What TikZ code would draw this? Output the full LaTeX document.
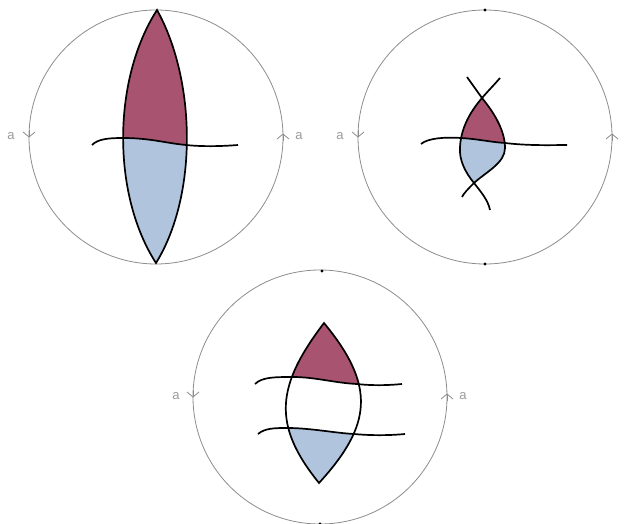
\documentclass[tikz,border=0pt]{standalone}
\usepackage{fontspec}
\newfontfamily\labelfont{Liberation Sans}
\definecolor{lnRim}{HTML}{8C8C8C}
\definecolor{lnLabel}{HTML}{9A9A9A}
\definecolor{lnRed}{HTML}{A8536F}
\definecolor{lnBlue}{HTML}{B0C4DE}
\usetikzlibrary{arrows.meta}

\begin{document}
\begin{tikzpicture}[x=1pt,y=-1pt,
                    rim/.style={draw=lnRim,line width=0.8pt},
                    rimtip/.style={lnRim,line width=0.8pt,
                                   -{Straight Barb[length=5pt,width=12pt]}},
                    strand/.style={draw=black,line width=1.7pt},
                    side/.style={font=\labelfont\fontsize{13}{15}\selectfont,
                                 text=lnLabel,inner sep=0pt}]
  \useasboundingbox (0,0) rectangle (626,524);
  \coordinate (disc1) at (156,137);
  \coordinate (disc2) at (485,137);
  \coordinate (disc3) at (320,397);

  % the three discs with their glued sides
  \draw[rim] (disc1) circle[radius=127];
  \draw[rim] (disc2) circle[radius=127];
  \draw[rim] (disc3) circle[radius=127];
  \draw[rimtip] (29,130) -- (29,137.5);
  \draw[rimtip] (283,141) -- (283,133.5);
  \draw[rimtip] (358,130) -- (358,137.5);
  \draw[rimtip] (612,141) -- (612,133.5);
  \draw[rimtip] (193,390) -- (193,397.5);
  \draw[rimtip] (447,401) -- (447,393.5);
  \node[side] (a1l) at (11,136) {a};
  \node[side] (a1r) at (299,136) {a};
  \node[side] (a2l) at (340,136) {a};
  \node[side] (a3l) at (176,396) {a};
  \node[side] (a3r) at (463,396) {a};

  % disc 1: tall lens cut once
  \begin{scope}
    \clip (157,10) .. controls (112,80) and (112,195) .. (156,263)
          .. controls (198,195) and (196,80) .. (157,10) -- cycle;
    \fill[lnBlue] (100,0) rectangle (220,270);
    \fill[lnRed] (92,0) -- (92,145) .. controls (98,139) and (108,138) .. (123,138)
          .. controls (150,138) and (165,143) .. (186,145)
          .. controls (205,147) and (225,146) .. (238,145) -- (238,0) -- cycle;
  \end{scope}
  \draw[strand] (157,10) .. controls (112,80) and (112,195) .. (156,263)
        .. controls (198,195) and (196,80) .. (157,10) -- cycle;
  \draw[strand] (92,145) .. controls (98,139) and (108,138) .. (123,138)
        .. controls (150,138) and (165,143) .. (186,145)
        .. controls (205,147) and (225,146) .. (238,145);

  % disc 2: two strands crossing twice
  \begin{scope}
    \clip (482,98) .. controls (496,115) and (505,132) .. (505,148)
          .. controls (505,163) and (486,172) .. (474,183)
          .. controls (465,172) and (459,160) .. (460,147)
          .. controls (461,128) and (470,112) .. (482,98) -- cycle;
    \fill[lnBlue] (440,90) rectangle (520,190);
    \fill[lnRed] (421,0) -- (421,144) .. controls (428,138) and (445,137) .. (461,138)
          .. controls (478,139) and (490,142) .. (505,143)
          .. controls (530,146) and (555,145) .. (567,145) -- (567,0) -- cycle;
  \end{scope}
  \draw[strand] (467,77) .. controls (472,84) and (477,91) .. (482,98)
        .. controls (496,115) and (505,132) .. (505,148)
        .. controls (505,163) and (486,172) .. (474,183)
        .. controls (468,189) and (464,193) .. (462,197);
  \draw[strand] (500,78) .. controls (494,85) and (488,91) .. (482,98)
        .. controls (470,112) and (461,128) .. (460,147)
        .. controls (459,160) and (465,172) .. (474,183)
        .. controls (481,192) and (488,200) .. (490,210);
  \draw[strand] (421,144) .. controls (428,138) and (445,137) .. (461,138)
        .. controls (478,139) and (490,142) .. (505,143)
        .. controls (530,146) and (555,145) .. (567,145);
  \fill (485,10) circle[radius=1.6];
  \fill (485,264) circle[radius=1.6];

  % disc 3: lens cut twice
  \begin{scope}
    \clip (324,323) .. controls (276,386) and (272,425) .. (319,483)
          .. controls (372,425) and (376,386) .. (324,323) -- cycle;
    \fill[lnRed] (255,300) -- (255,384) .. controls (262,377) and (275,377) .. (293,377)
          .. controls (315,377) and (335,383) .. (357,384)
          .. controls (375,386) and (392,385) .. (402,384) -- (402,300) -- cycle;
    \fill[lnBlue] (258,500) -- (258,434) .. controls (265,428) and (275,428) .. (288,428)
          .. controls (310,428) and (335,433) .. (354,434)
          .. controls (375,436) and (395,435) .. (405,434) -- (405,500) -- cycle;
  \end{scope}
  \draw[strand] (324,323) .. controls (276,386) and (272,425) .. (319,483)
        .. controls (372,425) and (376,386) .. (324,323) -- cycle;
  \draw[strand] (255,384) .. controls (262,377) and (275,377) .. (293,377)
        .. controls (315,377) and (335,383) .. (357,384)
        .. controls (375,386) and (392,385) .. (402,384);
  \draw[strand] (258,434) .. controls (265,428) and (275,428) .. (288,428)
        .. controls (310,428) and (335,433) .. (354,434)
        .. controls (375,436) and (395,435) .. (405,434);
  \fill (322,271) circle[radius=1.6];
  \fill (320,524) circle[radius=1.6];
\end{tikzpicture}
\end{document}
